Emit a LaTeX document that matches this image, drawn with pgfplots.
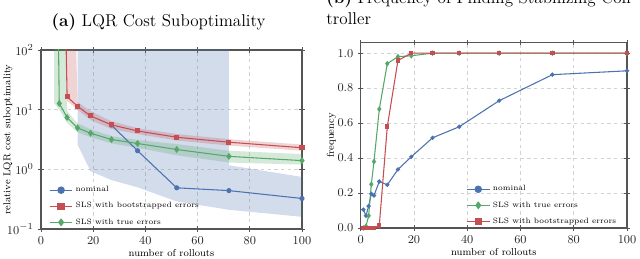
\documentclass[border=0pt]{standalone}
\usepackage{pgfplots}
\pgfplotsset{compat=1.18}
\definecolor{cblue}{RGB}{76,114,176}
\definecolor{cred}{RGB}{196,78,82}
\definecolor{cgreen}{RGB}{85,168,104}
\definecolor{axgray}{RGB}{85,85,85}
\pgfplotsset{
 mystyle/.style={
  scale only axis,
  axis line style={axgray, line width=0.8pt},
  tick style={axgray, line width=0.6pt},
  major tick length=4pt, minor tick length=2pt,
  tick align=center,
  grid=major,
  major grid style={dash pattern=on 2.5pt off 2.5pt, gray!35, line width=0.5pt},
  tick label style={font=\fontsize{9.5}{11}\selectfont, black!85},
  label style={font=\fontsize{7.5}{9}\selectfont},
  legend cell align=left,
  legend style={draw=none, fill=none, font=\fontsize{5.8}{7}\selectfont, row sep=2.5pt},
  legend image post style={mark size=2.4pt},
  xmin=0, xmax=100, xtick={0,20,...,100},
  xlabel={number of rollouts},
 }
}
\begin{document}
\begin{tikzpicture}
% ---------------- (a)
\begin{axis}[mystyle,
  at={(30.75pt,21.75pt)}, anchor=south west,
  width=195.75pt, height=134.25pt,
  ymode=log, ymin=0.1, ymax=100, ytick={0.1,1,10,100},
  ylabel={relative LQR cost suboptimality},
  ylabel style={at={(axis description cs:-0.127,0.5)}, anchor=center, rotate=0},
  xlabel style={at={(axis description cs:0.5,-0.136)}, anchor=center},
  legend style={at={(0.015,-0.015)}, anchor=south west},
  clip=true,
]
% bands
\addplot[forget plot, draw=none, fill=cblue, fill opacity=0.25] coordinates {
 (14,1e8) (19,1e8) (27,1e8) (37,1e8) (52,1e8) (72,1e8) (72,1.17) (100,0.745)
 (100,0.16) (72,0.21) (52,0.29) (37,0.5) (27,0.66) (19,0.93) (14,2.6)} -- cycle;
\addplot[forget plot, draw=none, fill=cred, fill opacity=0.25] coordinates {
 (10,1e8) (14,13.5) (19,9.4) (27,6.4) (37,4.9) (52,3.9) (72,3.2) (100,2.6)
 (100,2.05) (72,2.5) (52,3.05) (37,3.9) (27,4.75) (19,6.7) (14,10) (10,14)} -- cycle;
\addplot[forget plot, draw=none, fill=cgreen, fill opacity=0.25] coordinates {
 (5,1e8) (7,1e8) (10,9.5) (14,5.9) (19,4.7) (27,3.6) (37,3.1) (52,2.65) (72,2.05) (100,1.8)
 (100,1.2) (72,1.3) (52,1.72) (37,2.3) (27,2.72) (19,3.45) (14,4.2) (10,6.0) (7,10.0) (5,13)} -- cycle;
% lines
\addplot[cblue, line width=0.8pt, mark=*, mark size=1.5pt] coordinates {
 (27,5.5) (37,2.05) (52,0.49) (72,0.44) (100,0.325)};
\addlegendentry{nominal}
\addplot[forget plot, cred, line width=0.8pt] coordinates {(7,1e8) (10,16.5)};
\addplot[cred, line width=0.8pt, mark=square*, mark size=1.5pt] coordinates {
 (10,16.5) (14,11.4) (19,7.85) (27,5.56) (37,4.4) (52,3.45) (72,2.85) (100,2.30)};
\addlegendentry{SLS with bootstrapped errors}
\addplot[forget plot, cgreen, line width=0.8pt] coordinates {(5,1e8) (7,12.7)};
\addplot[cgreen, line width=0.8pt, mark=diamond*, mark size=2pt] coordinates {
 (7,12.7) (10,7.4) (14,4.95) (19,4.03) (27,3.16) (37,2.71) (52,2.15) (72,1.65) (100,1.40)};
\addlegendentry{SLS with true errors}
\end{axis}
\node[anchor=base west, font=\fontsize{12.8}{15}\selectfont] at (35.25pt,174pt) {\textbf{(a)} LQR Cost Suboptimality};
% ---------------- (b)
\begin{axis}[mystyle,
  at={(270.5pt,22.5pt)}, anchor=south west,
  width=199.75pt, height=139pt,
  ymin=0, ymax=1.06, ytick={0,0.2,...,1.0},
  yticklabel style={/pgf/number format/.cd, fixed, fixed zerofill, precision=1},
  ylabel={frequency},
  ylabel style={at={(axis description cs:-0.11,0.5)}, anchor=center, rotate=0},
  xlabel style={at={(axis description cs:0.5,-0.131)}, anchor=center},
  legend style={at={(0.985,-0.015)}, anchor=south east},
  clip=false,
]
\addplot[cblue, line width=0.8pt, mark=*, mark size=1.2pt] coordinates {
 (1,0.105) (2,0.07) (3,0.125) (4,0.195) (5,0.186) (7,0.266) (10,0.247) (14,0.335)
 (19,0.407) (27,0.516) (37,0.579) (52,0.728) (72,0.877) (100,0.899)};
\addlegendentry{nominal}
\addplot[cgreen, line width=0.8pt, mark=diamond*, mark size=1.5pt] coordinates {
 (1,0.0) (2,0.01) (3,0.07) (4,0.25) (5,0.38) (7,0.68) (10,0.94) (14,0.98)
 (19,0.985) (27,1) (37,1) (52,1) (72,1) (100,1)};
\addlegendentry{SLS with true errors}
\addplot[cred, line width=0.8pt, mark=square*, mark size=1.2pt] coordinates {
 (1,0) (2,0) (3,0) (4,0) (5,0) (7,0.015) (10,0.58) (14,0.958)
 (19,1) (27,1) (37,1) (52,1) (72,1) (100,1)};
\addlegendentry{SLS with bootstrapped errors}
\end{axis}
\node[anchor=base west, font=\fontsize{12.8}{15}\selectfont] at (241.3pt,191.25pt) {\textbf{(b)} Frequency of Finding Stabilizing Con-};
\node[anchor=base west, font=\fontsize{12.8}{15}\selectfont] at (241.3pt,175.5pt) {troller};
\pgfresetboundingbox
\path[use as bounding box] (0,0) rectangle (480pt,193.5pt);
\end{tikzpicture}
\end{document}
